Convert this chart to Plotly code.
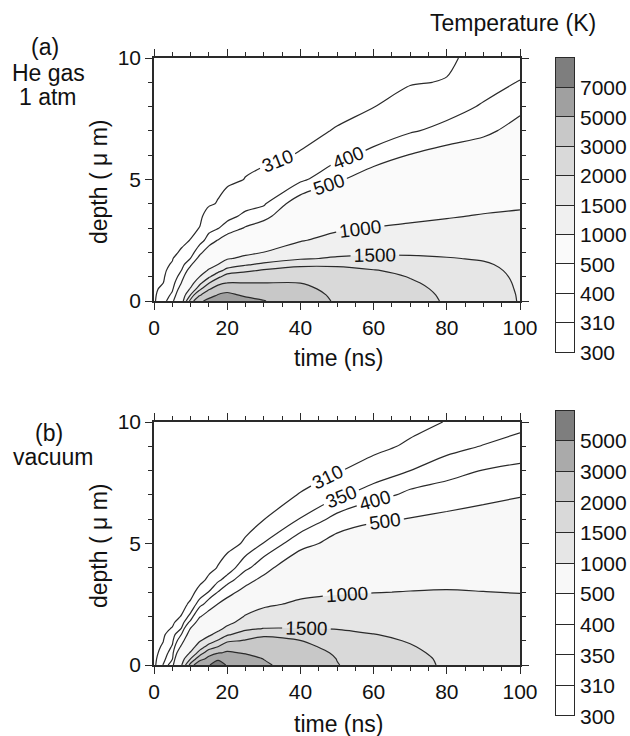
import numpy as np
import plotly.graph_objects as go

# ---------------- data ----------------
times = [0, 2.5, 5, 7.5, 10, 12.5, 15, 17.5, 20, 25, 30, 40, 50, 60, 70, 80, 90, 100]          # ns
depths = [0, 0.25, 0.5, 0.75, 1.0, 1.25, 1.5, 1.75, 2.0, 2.5, 3.0, 3.5, 4.0, 5, 6, 7, 8, 9, 10]  # um

# temperature profile T(depth) for every time, He gas 1 atm  (K)
temp_he = [
    [300, 300, 300, 300, 300, 300, 300, 300, 300, 300, 300, 300, 300, 300, 300, 300, 300, 300, 300],
    [360, 340, 322, 309, 304, 302, 300.5, 300, 300, 300, 300, 300, 300, 300, 300, 300, 300, 300, 300],
    [470, 420, 385, 360, 340, 325, 314, 307, 303, 301, 300, 300, 300, 300, 300, 300, 300, 300, 300],
    [700, 630, 560, 502, 445, 402, 365, 340, 314, 303, 300.5, 300, 300, 300, 300, 300, 300, 300, 300],
    [2200, 1510, 1050, 800, 650, 560, 480, 402, 355, 311, 302, 300.5, 300, 300, 300, 300, 300, 300, 300],
    [4600, 2800, 1800, 1350, 1005, 780, 640, 540, 470, 360, 311, 303, 301, 300, 300, 300, 300, 300, 300],
    [5600, 4200, 2800, 1950, 1420, 1060, 820, 670, 570, 440, 370, 325, 306, 300.5, 300, 300, 300, 300, 300],
    [5900, 5100, 3800, 2500, 1850, 1360, 1005, 840, 700, 505, 395, 340, 312, 302, 300.5, 300, 300, 300, 300],
    [6100, 5400, 4400, 2970, 2300, 1650, 1280, 960, 800, 560, 440, 370, 328, 302, 301, 300, 300, 300, 300],
    [5600, 4700, 3800, 2980, 2400, 1900, 1450, 1100, 900, 650, 510, 420, 370, 311, 302, 300.5, 300, 300, 300],
    [5100, 4300, 3600, 2980, 2500, 2080, 1600, 1250, 1005, 740, 580, 450, 390, 318, 303, 301, 300, 300, 300],
    [3500, 3350, 3180, 2990, 2700, 2300, 1850, 1450, 1250, 970, 790, 670, 570, 380, 312, 302, 300.5, 300, 300],
    [2900, 2850, 2780, 2650, 2450, 2180, 1900, 1550, 1380, 1130, 940, 800, 680, 480, 370, 312, 302, 300.5, 300],
    [2500, 2450, 2380, 2280, 2160, 2030, 1820, 1600, 1420, 1190, 1010, 870, 760, 580, 430, 345, 309, 302, 300.5],
    [2200, 2160, 2110, 2050, 1980, 1880, 1740, 1580, 1420, 1230, 1060, 920, 810, 640, 505, 390, 330, 307, 301],
    [1950, 1930, 1900, 1860, 1810, 1740, 1650, 1520, 1420, 1260, 1110, 970, 860, 690, 550, 430, 360, 312, 303],
    [1700, 1690, 1675, 1655, 1630, 1595, 1540, 1470, 1400, 1270, 1140, 1020, 910, 740, 590, 470, 410, 360, 325],
    [1480, 1475, 1465, 1455, 1440, 1420, 1400, 1375, 1345, 1270, 1160, 1050, 950, 790, 650, 550, 470, 405, 350],
]

# temperature profile T(depth) for every time, vacuum  (K)
temp_vac = [
    [300, 300, 300, 300, 300, 300, 300, 300, 300, 300, 300, 300, 300, 300, 300, 300, 300, 300, 300],
    [352, 335, 322, 314, 309, 305, 302, 301, 300.5, 300, 300, 300, 300, 300, 300, 300, 300, 300, 300],
    [440, 395, 375, 355, 340, 328, 312, 305, 302, 300.5, 300, 300, 300, 300, 300, 300, 300, 300, 300],
    [950, 760, 620, 520, 450, 402, 352, 325, 311, 303, 300.5, 300, 300, 300, 300, 300, 300, 300, 300],
    [2200, 1520, 1050, 780, 640, 560, 505, 420, 365, 314, 303, 301, 300.5, 300, 300, 300, 300, 300, 300],
    [4400, 2400, 1700, 1250, 960, 780, 650, 560, 490, 375, 318, 304, 301, 300, 300, 300, 300, 300, 300],
    [4980, 3500, 2350, 1700, 1250, 920, 760, 640, 560, 435, 352, 314, 305, 301, 300.5, 300, 300, 300, 300],
    [5150, 4950, 2900, 2010, 1550, 1150, 880, 740, 640, 505, 402, 340, 311, 302, 300.5, 300, 300, 300, 300],
    [4970, 4300, 3150, 2550, 1850, 1450, 1100, 880, 740, 560, 450, 370, 322, 302, 300.5, 300, 300, 300, 300],
    [4300, 3500, 2900, 2500, 2050, 1700, 1420, 1180, 1030, 760, 550, 450, 385, 313, 302, 300.5, 300, 300, 300],
    [3150, 2980, 2700, 2450, 2200, 1900, 1510, 1300, 1150, 940, 700, 540, 440, 352, 309, 301, 300.5, 300, 300],
    [2500, 2400, 2270, 2130, 2010, 1800, 1510, 1350, 1220, 1060, 920, 780, 660, 440, 352, 311, 302, 300.5, 300],
    [2020, 1990, 1930, 1850, 1760, 1640, 1480, 1360, 1250, 1100, 970, 850, 750, 560, 420, 340, 308, 301, 300],
    [1750, 1730, 1690, 1630, 1570, 1510, 1420, 1340, 1260, 1130, 990, 880, 790, 610, 480, 375, 322, 303, 301],
    [1620, 1600, 1560, 1520, 1480, 1430, 1370, 1310, 1250, 1140, 1010, 900, 810, 640, 505, 415, 350, 314, 302],
    [1450, 1440, 1420, 1400, 1370, 1340, 1300, 1260, 1220, 1130, 1020, 920, 830, 670, 530, 435, 375, 335, 311],
    [1350, 1345, 1335, 1320, 1300, 1280, 1250, 1220, 1190, 1110, 1005, 910, 830, 680, 560, 460, 402, 352, 320],
    [1280, 1275, 1270, 1260, 1245, 1230, 1205, 1180, 1150, 1080, 990, 910, 840, 700, 590, 490, 415, 365, 338],
]

levels_he = [300, 310, 400, 500, 1000, 1500, 2000, 3000, 5000, 7000]
colors_he = ['#ffffff', '#ffffff', '#ffffff', '#fafafa', '#f0f0f0', '#e6e6e6', '#d9d9d9', '#c8c8c8', '#a0a0a0', '#7e7e7e']
labeled_he = [310, 400, 500, 1000, 1500]

levels_vac = [300, 310, 350, 400, 500, 1000, 1500, 2000, 3000, 5000]
colors_vac = ['#ffffff', '#ffffff', '#ffffff', '#ffffff', '#f8f8f8', '#e6e6e6', '#d9d9d9', '#c8c8c8', '#aaaaaa', '#7e7e7e']
labeled_vac = [310, 350, 400, 500, 1000, 1500]

panel_a_lines = ["(a)", "He gas", "1 atm"]
panel_b_lines = ["(b)", "vacuum"]
x_title = "time (ns)"
y_title = "depth ( \u03bc m)"
cbar_title = "Temperature (K)"

# ---------------- figure ----------------
FONT = "Liberation Sans, Arial, Helvetica, sans-serif"
INK = "#2a2a2a"
TXT = "#111111"
W, H = 630, 736

fig = go.Figure()


def px_x(p):
    return p / W


def px_y(p):
    return 1 - p / H


def add_panel(temps, levels, colors, labeled, xa, ya):
    z = np.array(temps, dtype=float).T  # rows = depth, cols = time
    zmax = z.max()
    # filled bands: a constraint contour shades the region that fails it,
    # so "< level" shades everything hotter than the level
    for lvl, col in zip(levels, colors):
        if col.lower() == '#ffffff' or lvl >= zmax:
            continue
        fig.add_trace(go.Contour(
            x=times, y=depths, z=z, xaxis=xa, yaxis=ya,
            contours=dict(type='constraint', operation='<', value=lvl),
            fillcolor=col, line=dict(width=0, smoothing=0.8),
            showscale=False, hoverinfo='skip', showlegend=False))
    # isotherm lines + labels
    for lvl in levels[1:]:
        if lvl >= zmax:
            continue
        fig.add_trace(go.Contour(
            x=times, y=depths, z=z, xaxis=xa, yaxis=ya,
            contours=dict(type='constraint', operation='<', value=lvl,
                          showlabels=lvl in labeled, labelformat='d',
                          labelfont=dict(family=FONT, size=19, color=TXT)),
            fillcolor='rgba(0,0,0,0)', line=dict(color=INK, width=1.2, smoothing=0.8),
            showscale=False, hoverinfo='skip', showlegend=False))


def add_colorbar(levels, colors, xa, ya):
    for lvl, col in zip(levels, colors):
        fig.add_trace(go.Bar(
            x=[0], y=[1], width=1, xaxis=xa, yaxis=ya,
            marker=dict(color=col, line=dict(color=INK, width=1.5)),
            hoverinfo='skip', showlegend=False))


add_panel(temp_he, levels_he, colors_he, labeled_he, 'x', 'y')
add_panel(temp_vac, levels_vac, colors_vac, labeled_vac, 'x2', 'y2')
add_colorbar(levels_he, colors_he, 'x3', 'y3')
add_colorbar(levels_vac, colors_vac, 'x4', 'y4')

xdom = [px_x(154), px_x(520)]
dom_a = [px_y(301), px_y(58)]
dom_b = [px_y(665), px_y(422)]
cb_x = [px_x(555), px_x(576)]
cb_a = [px_y(354), px_y(57)]
cb_b = [px_y(718), px_y(409)]

common_x = dict(range=[0, 100], dtick=20, tick0=0, ticks='outside', ticklen=7, tickwidth=1.2,
                tickcolor=INK, showline=True, linecolor=INK, linewidth=1.5, mirror='ticks',
                showgrid=False, zeroline=False, automargin=False,
                minor=dict(dtick=5, tick0=0, ticks='outside', ticklen=4, tickwidth=1.2, tickcolor=INK),
                tickfont=dict(family=FONT, size=21, color=TXT))
common_y = dict(range=[0, 10], dtick=5, tick0=0, ticks='outside', ticklen=7, tickwidth=1.2,
                tickcolor=INK, showline=True, linecolor=INK, linewidth=1.5, mirror='ticks',
                showgrid=False, zeroline=False, automargin=False,
                minor=dict(dtick=1, tick0=0, ticks='outside', ticklen=4, tickwidth=1.2, tickcolor=INK),
                tickfont=dict(family=FONT, size=21, color=TXT))

cb_y = dict(range=[-0.05, 10.05], tickmode='array', ticks='', showline=False, showgrid=False,
            zeroline=False, automargin=False,
            side='right', ticklabelstandoff=3, tickfont=dict(family=FONT, size=21, color=TXT))
cb_xax = dict(range=[-0.56, 0.56], visible=False, automargin=False)


def txt(text, x, y, size=23, angle=0):
    return dict(text=text, x=px_x(x), y=px_y(y), xref='paper', yref='paper',
                xanchor='center', yanchor='middle', showarrow=False, align='center',
                textangle=angle, font=dict(family=FONT, size=size, color=TXT))


fig.update_layout(
    width=W, height=H, margin=dict(l=0, r=0, t=0, b=0, autoexpand=False),
    paper_bgcolor='white', plot_bgcolor='white',
    barmode='stack', bargap=0,
    font=dict(family=FONT, color=TXT),
    xaxis=dict(common_x, domain=xdom, anchor='y'),
    yaxis=dict(common_y, domain=dom_a, anchor='x'),
    xaxis2=dict(common_x, domain=xdom, anchor='y2'),
    yaxis2=dict(common_y, domain=dom_b, anchor='x2'),
    xaxis3=dict(cb_xax, domain=cb_x, anchor='y3'),
    yaxis3=dict(cb_y, domain=cb_a, anchor='x3',
                tickvals=list(range(len(levels_he))), ticktext=[str(v) for v in levels_he]),
    xaxis4=dict(cb_xax, domain=cb_x, anchor='y4'),
    yaxis4=dict(cb_y, domain=cb_b, anchor='x4',
                tickvals=list(range(len(levels_vac))), ticktext=[str(v) for v in levels_vac]),
    annotations=[
        txt(panel_a_lines[0], 45, 47),
        txt(panel_a_lines[1], 48, 73),
        txt(panel_a_lines[2], 48, 97),
        txt(panel_b_lines[0], 49, 433),
        txt(panel_b_lines[1], 53, 457),
        txt(cbar_title, 513, 23),
        txt(x_title, 338, 358),
        txt(x_title, 338, 724),
        txt(y_title, 99, 182, angle=-90),
        txt(y_title, 99, 546, angle=-90),
    ],
)

fig.write_html("out.html",
               config={'displayModeBar': False},
               post_script="document.body.style.margin='0px';document.body.style.overflow='hidden';")
